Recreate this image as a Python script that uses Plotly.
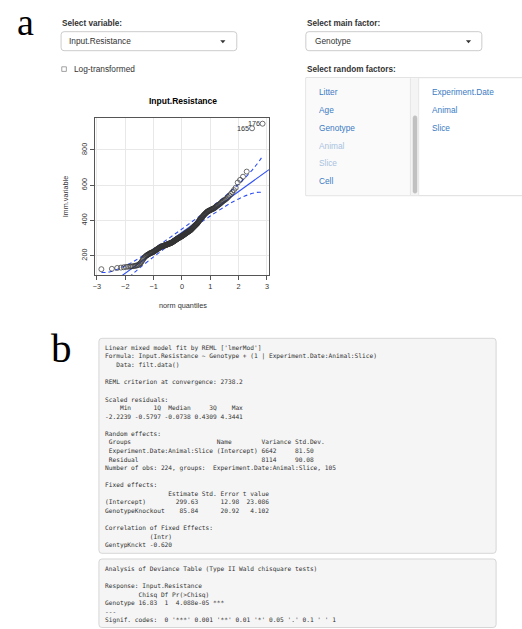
import plotly.graph_objects as go
from statistics import NormalDist

# ---------------- data ----------------
# sorted lmm.variable values (Input.Resistance)
y_vals = [
    123, 125, 130, 132, 134,
    136, 137, 138, 139, 140, 141, 143,
    144, 146, 150, 155, 160,
    167, 175, 182, 188, 193,
    197, 200, 203, 205, 207, 209, 212,
    214, 215, 216, 218, 219, 220, 222,
    224, 226, 228, 230, 232, 234, 236, 237, 239, 241, 243, 244, 246, 247, 249, 250,
    251, 252, 253, 254, 254, 255, 256, 257, 258, 259, 259, 260, 261, 262, 263, 263, 264, 265,
    266, 267, 268, 268, 269, 270, 271, 271, 272,
    273, 274, 275, 277, 278, 279, 280, 282, 283, 284, 285, 287, 288, 289, 290, 292, 293, 294,
    295, 297, 298, 299, 300, 301, 302, 303, 304, 305, 306, 307, 308,
    309, 310, 312, 313, 314, 315, 317, 318, 319, 320, 322, 323, 324, 326, 327, 328, 329, 331,
    332, 333, 335, 336, 337, 338, 340, 341, 342, 343, 345, 346,
    348, 350, 352, 354, 356, 358, 360, 362, 364, 366, 368, 370, 372, 374, 376, 378, 380, 382, 384,
    387, 390, 393, 396, 399, 402, 404, 407, 410, 413, 416, 418, 421,
    424, 427, 429, 432, 435, 437, 440, 442, 445, 447, 450,
    451, 453, 454, 456, 457, 459, 460, 462, 463, 465, 466, 468, 469,
    472, 475, 478, 481, 484, 487, 490, 493, 497,
    501, 505, 509, 513, 517, 521, 526,
    533, 541, 550, 560, 572, 585,
    615, 630, 648, 677, 923, 949,
]
outlier_ids = ["165", "176"]          # labels of the two largest observations

line_intercept = 332
line_slope = 116

env_x  = [-2.84, -2.65, -2.5, -2.35, -2.2, -2.0, -1.75, -1.5, -1.0, -0.5, 0, 0.5, 1.0, 1.5, 1.75, 2.0, 2.2, 2.35, 2.5, 2.65, 2.84]
env_hi = [105, 105, 110, 118, 127, 142, 163, 187, 239, 294, 351, 410, 471, 535, 570, 606, 637, 663, 690, 720, 763]
env_lo = [-99, -56, -26, 1, 27, 58, 94, 129, 193, 254, 313, 370, 425, 477, 501, 522, 537, 546, 554, 559, 559]

x_ticks = [-3, -2, -1, 0, 1, 2, 3]
y_ticks = [200, 400, 600, 800]

lmer_lines = [
    "Linear mixed model fit by REML ['lmerMod']",
    "Formula: Input.Resistance ~ Genotype + (1 | Experiment.Date:Animal:Slice)",
    "   Data: filt.data()",
    "",
    "REML criterion at convergence: 2738.2",
    "",
    "Scaled residuals: ",
    "    Min      1Q  Median     3Q    Max ",
    "-2.2239 -0.5797 -0.0738 0.4309 4.3441 ",
    "",
    "Random effects:",
    " Groups                       Name        Variance Std.Dev.",
    " Experiment.Date:Animal:Slice (Intercept) 6642     81.50   ",
    " Residual                                 8114     90.08   ",
    "Number of obs: 224, groups:  Experiment.Date:Animal:Slice, 105",
    "",
    "Fixed effects:",
    "                 Estimate Std. Error t value",
    "(Intercept)        299.63      12.98  23.086",
    "GenotypeKnockout    85.84      20.92   4.102",
    "",
    "Correlation of Fixed Effects:",
    "            (Intr)",
    "GentypKnckt -0.620",
]
anova_lines = [
    "Analysis of Deviance Table (Type II Wald chisquare tests)",
    "",
    "Response: Input.Resistance",
    "         Chisq Df Pr(>Chisq)    ",
    "Genotype 16.83  1  4.088e-05 ***",
    "---",
    "Signif. codes:  0 '***' 0.001 '**' 0.01 '*' 0.05 '.' 0.1 ' ' 1",
]

left_factors = ["Litter", "Age", "Genotype", "Animal", "Slice", "Cell"]
left_faded = [False, False, False, True, True, False]
right_factors = ["Experiment.Date", "Animal", "Slice"]

# ---------------- helpers ----------------
W, H = 522, 629
def X(px): return px / W
def Y(py): return 1 - py / H

SANS = "Liberation Sans, Arial, sans-serif"
MONO = "DejaVu Sans Mono, monospace"
SERIF = "Liberation Serif, Times New Roman, serif"

annotations = []
shapes = []

def text(x, y, s, size, color="#333333", family=SANS, anchor="left", bold=False, angle=0):
    if bold:
        s = "<b>" + s + "</b>"
    annotations.append(dict(
        x=X(x), y=Y(y), xref="paper", yref="paper", text=s, showarrow=False,
        xanchor=anchor, yanchor="middle", borderpad=0, textangle=angle,
        font=dict(size=size, color=color, family=family)))

def rrect(x0, y0, x1, y1, r, fill, line, lw=1):
    pts = [("M", x0 + r, y0), ("L", x1 - r, y0), ("Q", x1, y0, x1, y0 + r),
           ("L", x1, y1 - r), ("Q", x1, y1, x1 - r, y1), ("L", x0 + r, y1),
           ("Q", x0, y1, x0, y1 - r), ("L", x0, y0 + r), ("Q", x0, y0, x0 + r, y0)]
    p = ""
    for item in pts:
        cmd = item[0]
        coords = item[1:]
        cs = []
        for i in range(0, len(coords), 2):
            cs.append(f"{X(coords[i]):.5f},{Y(coords[i+1]):.5f}")
        p += cmd + " ".join(cs) + " "
    p += "Z"
    shapes.append(dict(type="path", path=p, xref="paper", yref="paper",
                       fillcolor=fill, line=dict(color=line, width=lw)))

def rect(x0, y0, x1, y1, fill, line=None, lw=0):
    shapes.append(dict(type="rect", x0=X(x0), x1=X(x1), y0=Y(y1), y1=Y(y0),
                       xref="paper", yref="paper", fillcolor=fill,
                       line=dict(color=line or fill, width=lw)))

def caret(cx, cy):
    p = f"M{X(cx-2.6):.5f},{Y(cy-1.4):.5f} L{X(cx+2.6):.5f},{Y(cy-1.4):.5f} L{X(cx):.5f},{Y(cy+1.6):.5f} Z"
    shapes.append(dict(type="path", path=p, xref="paper", yref="paper",
                       fillcolor="#333333", line=dict(color="#333333", width=0)))

# ---------------- page furniture ----------------
text(23.5, 22, "a", 38, "#000000", SERIF, anchor="center")
text(60, 348, "b", 41, "#000000", SERIF, anchor="center")

text(59.3, 23.5, "Select variable:", 8.2, bold=True)
rrect(59.3, 31.7, 235.7, 50.7, 3, "#ffffff", "#cccccc")
text(66.7, 41.4, "Input.Resistance", 8.3)
caret(221.7, 41.7)
rect(60, 66.8, 64.6, 71.4, "#ffffff", "#8a8a8a", 0.8)
text(71, 69.3, "Log-transformed", 8.3)

text(305, 23.5, "Select main factor:", 8.2, bold=True)
rrect(305, 31.7, 481.7, 50.7, 3, "#ffffff", "#cccccc")
text(312.7, 41.4, "Genotype", 8.3)
caret(468.3, 41.7)
text(305, 69.3, "Select random factors:", 8.2, bold=True)

# random factor selector
rect(305, 77.7, 540, 195.7, "#ffffff", "#dddddd", 1)
rect(305.5, 78.2, 410, 195.2, "#fafafa")
rect(410, 78.2, 418.3, 195.2, "#f4f4f4")
shapes.append(dict(type="line", x0=X(410), x1=X(410), y0=Y(78.2), y1=Y(195.2),
                   xref="paper", yref="paper", line=dict(color="#e6e6e6", width=1)))
shapes.append(dict(type="line", x0=X(418.3), x1=X(418.3), y0=Y(78.2), y1=Y(195.2),
                   xref="paper", yref="paper", line=dict(color="#e6e6e6", width=1)))
rrect(412.6, 115.7, 416.6, 193.3, 2, "#c1c1c1", "#c1c1c1", 0.5)
for i, (f, faded) in enumerate(zip(left_factors, left_faded)):
    text(317.3, 92.3 + i * 17.75, f, 8.3, "#a8c2e0" if faded else "#3a7bc4")
for i, f in enumerate(right_factors):
    text(431, 92.3 + i * 17.75, f, 8.3, "#3a7bc4")

# ---------------- verbatim output boxes ----------------
rrect(97.3, 338.3, 496, 553.3, 3, "#f5f5f5", "#d6d6d6")
rrect(97.3, 559, 496, 627.5, 3, "#f5f5f5", "#d6d6d6")
for i, ln in enumerate(lmer_lines):
    if ln.strip():
        text(102.7, 347.7 + i * 8.58, ln.replace(" ", "\u00a0"), 6.2, "#333333", MONO)
for i, ln in enumerate(anova_lines):
    if ln.strip():
        text(102.7, 569 + i * 8.58, ln.replace(" ", "\u00a0"), 6.2, "#333333", MONO)

# ---------------- QQ plot ----------------
n = len(y_vals)
nd = NormalDist()
y_sorted = sorted(y_vals)
q = [nd.inv_cdf((i + 0.5) / n) for i in range(n)]

x_range = [-3.07, 3.07]
y_range = [90, 983]

fig = go.Figure()
BLUE = "#2f50f5"
fig.add_trace(go.Scatter(x=env_x, y=env_hi, mode="lines", line=dict(color=BLUE, width=1.1, dash="4px,3px", shape="spline"), hoverinfo="skip"))
fig.add_trace(go.Scatter(x=env_x, y=env_lo, mode="lines", line=dict(color=BLUE, width=1.1, dash="4px,3px", shape="spline"), hoverinfo="skip"))
fig.add_trace(go.Scatter(x=x_range, y=[line_intercept + line_slope * v for v in x_range], mode="lines",
                         line=dict(color=BLUE, width=1.1), hoverinfo="skip"))
fig.add_trace(go.Scatter(x=q, y=y_sorted, mode="markers",
                         marker=dict(symbol="circle-open", size=5, color="#333333", line=dict(width=0.7, color="#333333"))))

for lab, xv, yv in zip(outlier_ids, q[-2:], y_sorted[-2:]):
    annotations.append(dict(x=xv, y=yv, xref="x", yref="y", text=lab, showarrow=False,
                            xanchor="right", yanchor="middle", xshift=-2, borderpad=0,
                            font=dict(size=7.3, color="#333333", family=SANS)))

# plot titles
text(181.7, 101, "Input.Resistance", 8.5, "#000000", bold=True, anchor="center")
text(181.7, 305.7, "norm quantiles", 7.3, "#333333", anchor="center")
text(63.3, 197, "lmm.variable", 7.3, "#333333", anchor="center", angle=-90)

axis_common = dict(showline=True, mirror=True, linecolor="#555555", linewidth=1,
                   ticks="outside", ticklen=4, tickcolor="#555555", tickwidth=1,
                   showgrid=True, gridcolor="#e8e8e8", gridwidth=1, zeroline=False,
                   tickfont=dict(size=7.3, color="#333333", family=SANS))

fig.update_layout(
    width=W, height=H, margin=dict(l=0, r=0, t=0, b=0),
    paper_bgcolor="#ffffff", plot_bgcolor="#ffffff", showlegend=False,
    xaxis=dict(domain=[X(93.3), X(268)], range=x_range, tickvals=x_ticks, **axis_common),
    yaxis=dict(domain=[Y(275), Y(117.7)], range=y_range, tickvals=y_ticks, tickangle=-90, **axis_common),
    annotations=annotations, shapes=shapes,
)

fig.write_html("out.html", config={"displayModeBar": False},
               post_script="document.body.style.margin='0';document.body.style.overflow='hidden';")
